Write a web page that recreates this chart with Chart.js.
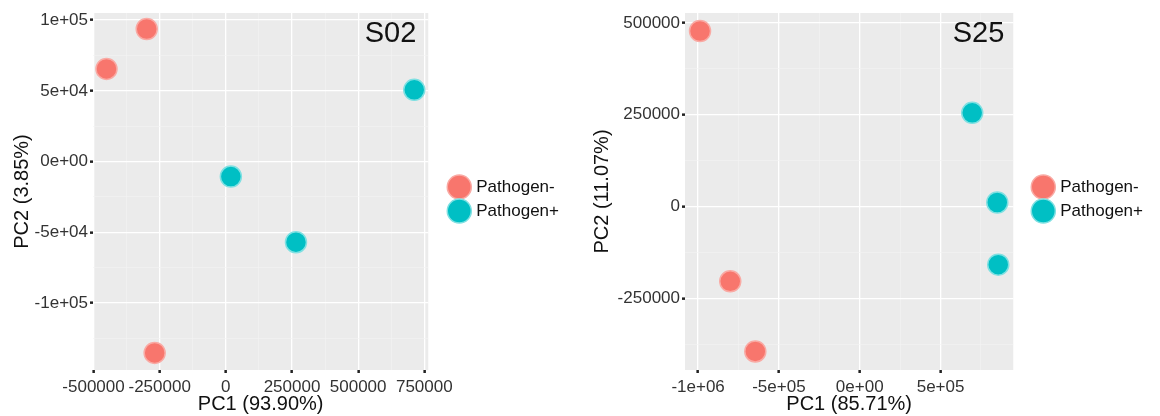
<!DOCTYPE html>
<html>
<head>
<meta charset="utf-8">
<script src="https://cdn.jsdelivr.net/npm/chart.js@4"></script>
<style>
  body { margin: 0; background: #fff; }
  .row { display: flex; width: 1160px; height: 416px; }
  canvas { display: block; }
</style>
</head>
<body>
<div class="row">
  <canvas id="chartS02" width="580" height="416"></canvas>
  <canvas id="chartS25" width="580" height="416"></canvas>
</div>
<script>
// S02 panel
const s02NegX = [-299000, -451000, -269000];
const s02NegY = [93700, 65500, -135200];
const s02PosX = [712000, 19000, 265000];
const s02PosY = [50700, -10600, -57000];
const s02XTicks = [-500000, -250000, 0, 250000, 500000, 750000];
const s02XLabels = ["-500000", "-250000", "0", "250000", "500000", "750000"];
const s02YTicks = [-100000, -50000, 0, 50000, 100000];
const s02YLabels = ["-1e+05", "-5e+04", "0e+00", "5e+04", "1e+05"];

// S25 panel
const s25NegX = [-988000, -801000, -646000];
const s25NegY = [478000, -204000, -395000];
const s25PosX = [696000, 851000, 857000];
const s25PosY = [255000, 10750, -158600];
const s25XTicks = [-1000000, -500000, 0, 500000];
const s25XLabels = ["-1e+06", "-5e+05", "0e+00", "5e+05"];
const s25YTicks = [-250000, 0, 250000, 500000];
const s25YLabels = ["-250000", "0", "250000", "500000"];

const groups = ["Pathogen-", "Pathogen+"];

Chart.defaults.font.family = "'Liberation Sans', Arial, sans-serif";

// grey ggplot-like panel + the sample label in the corner
const panelPlugin = {
  id: "panel",
  beforeDraw(chart, args, opts) {
    const a = chart.chartArea;
    const ctx = chart.ctx;
    ctx.save();
    ctx.fillStyle = "#EBEBEB";
    ctx.fillRect(a.left, a.top, a.right - a.left, a.bottom - a.top);
    ctx.restore();
  },
  afterDatasetsDraw(chart, args, opts) {
    const a = chart.chartArea;
    const ctx = chart.ctx;
    ctx.save();
    ctx.font = "29px 'Liberation Sans', Arial, sans-serif";
    ctx.fillStyle = "#111";
    ctx.textAlign = "right";
    ctx.textBaseline = "alphabetic";
    ctx.fillText(opts.text, a.right + opts.dx, a.top + opts.dy);
    ctx.restore();
  }
};

// major ticks plus ggplot's minor lines halfway between them
function withMinor(major, min, max) {
  const step = major[1] - major[0];
  const out = [];
  for (let v = major[0] - step / 2; v <= max; v += step / 2) {
    if (v >= min) out.push(v);
  }
  return out;
}

function axis(pos, major, labels, min, max, title, size, titlePad) {
  const all = withMinor(major, min, max);
  const isMajor = (v) => major.indexOf(v) !== -1;
  return {
    type: "linear",
    position: pos,
    min: min,
    max: max,
    afterBuildTicks: (s) => { s.ticks = all.map((v) => ({ value: v })); },
    afterFit: (s) => {
      if (pos === "bottom") s.height = size; else s.width = size;
    },
    border: { display: false },
    grid: {
      color: (c) => isMajor(c.tick.value) ? "#FFFFFF" : "#F4F4F4",
      lineWidth: (c) => isMajor(c.tick.value) ? 1.3 : 0.6,
      tickColor: (c) => isMajor(c.tick.value) ? "#222" : "rgba(0,0,0,0)",
      tickLength: 3,
      tickWidth: 2.5
    },
    ticks: {
      autoSkip: false,
      maxRotation: 0,
      padding: pos === "bottom" ? 4 : 2,
      color: "#333",
      font: { size: 17 },
      callback: (v) => {
        const i = major.indexOf(v);
        return i === -1 ? "" : labels[i];
      }
    },
    title: {
      display: true,
      text: title,
      color: "#111",
      font: { size: 20, lineHeight: 1.2 },
      padding: titlePad
    }
  };
}

function pts(xs, ys) {
  return xs.map((x, i) => ({ x: x, y: ys[i] }));
}

function makeChart(id, p) {
  new Chart(document.getElementById(id), {
    type: "scatter",
    data: {
      datasets: [
        {
          label: groups[0],
          data: pts(p.negX, p.negY),
          backgroundColor: "#F8766D",
          borderColor: "#F9AAA4",
          borderWidth: 1.5,
          pointRadius: 10.5,
          pointHoverRadius: 10.5
        },
        {
          label: groups[1],
          data: pts(p.posX, p.posY),
          backgroundColor: "#00BFC4",
          borderColor: "#7FE0E2",
          borderWidth: 1.5,
          pointRadius: 10.5,
          pointHoverRadius: 10.5
        }
      ]
    },
    options: {
      responsive: false,
      animation: false,
      layout: { padding: { top: 13, bottom: 0, left: 0, right: p.padRight } },
      scales: {
        x: axis("bottom", p.xTicks, p.xLabels, p.xMin, p.xMax, p.xTitle, 46, { top: 0, bottom: 0 }),
        y: axis("left", p.yTicks, p.yLabels, p.yMin, p.yMax, p.yTitle, p.yWidth, { top: 10, bottom: 0 }),
        // invisible spacer between the panel and the legend
        gap: {
          type: "linear",
          position: "right",
          display: false,
          afterFit: (s) => { s.width = p.gap; }
        }
      },
      plugins: {
        tooltip: { enabled: false },
        legend: {
          position: "right",
          fullSize: false,
          align: "center",
          title: { display: true, text: "", font: { size: 10, lineHeight: 1.5 }, padding: 0 },
          labels: {
            usePointStyle: true,
            pointStyle: "circle",
            color: "#111",
            font: { size: 17 },
            padding: 7
          }
        },
        panel: { text: p.name, dx: p.nameDx, dy: 29 }
      }
    },
    plugins: [panelPlugin]
  });
}

makeChart("chartS02", {
  name: "S02", nameDx: -12,
  negX: s02NegX, negY: s02NegY, posX: s02PosX, posY: s02PosY,
  xTicks: s02XTicks, xLabels: s02XLabels, yTicks: s02YTicks, yLabels: s02YLabels,
  xMin: -502000, xMax: 765000, yMin: -147300, yMax: 105000,
  xTitle: "PC1 (93.90%)", yTitle: "PC2 (3.85%)",
  yWidth: 93, gap: 15.5, padRight: 11
});

makeChart("chartS25", {
  name: "S25", nameDx: -9,
  negX: s25NegX, negY: s25NegY, posX: s25PosX, posY: s25PosY,
  xTicks: s25XTicks, xLabels: s25XLabels, yTicks: s25YTicks, yLabels: s25YLabels,
  xMin: -1081000, xMax: 950000, yMin: -445600, yMax: 527000,
  xTitle: "PC1 (85.71%)", yTitle: "PC2 (11.07%)",
  yWidth: 105, gap: 14.5, padRight: 7
});
</script>
</body>
</html>
